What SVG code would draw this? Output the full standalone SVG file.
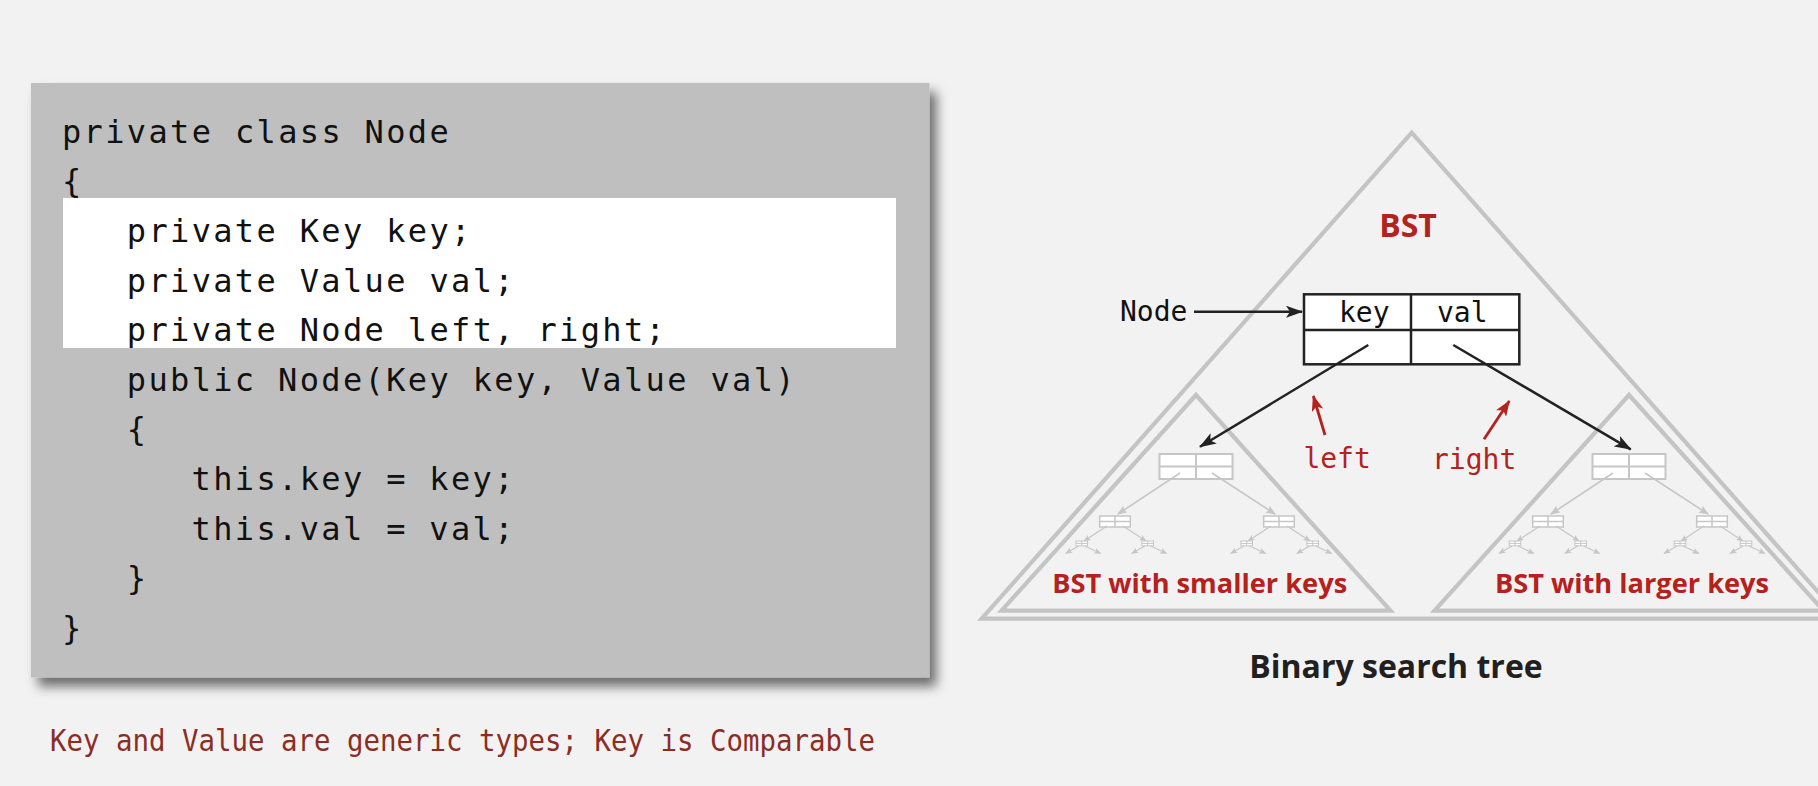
<svg xmlns="http://www.w3.org/2000/svg" xmlns:xlink="http://www.w3.org/1999/xlink" width="1818" height="786" viewBox="0 0 1818 786">
<style>
.code{font-family:"DejaVu Sans Mono","Liberation Mono",monospace;font-size:32px;letter-spacing:2.35px;fill:#111}
.mono{font-family:"DejaVu Sans Mono","Liberation Mono",monospace;font-size:28px}
.bold{font-family:"Open Sans","Liberation Sans",sans-serif;font-weight:bold}
.red{fill:#b5211c}
.tri{fill:none;stroke:#c4c4c4;stroke-width:4.2;stroke-linejoin:miter}
.gbox{fill:#fff;stroke:#c6c6c6}
.gl{stroke:#c6c6c6;fill:none}
</style>
<defs>
<filter id="shadow" x="-5%" y="-5%" width="115%" height="115%">
<feDropShadow dx="7" dy="9" stdDeviation="6" flood-color="#000" flood-opacity="0.55"/>
</filter>
<marker id="ab" markerUnits="userSpaceOnUse" markerWidth="17" markerHeight="12" refX="16" refY="6" orient="auto"><path d="M0,0 L17,6 L0,12 L4,6 z" fill="#222"/></marker>
<marker id="ar" markerUnits="userSpaceOnUse" markerWidth="16" markerHeight="12" refX="15" refY="6" orient="auto"><path d="M0,0 L16,6 L0,12 L4,6 z" fill="#b5211c"/></marker>
<marker id="ga" markerUnits="userSpaceOnUse" markerWidth="10" markerHeight="8" refX="9" refY="4" orient="auto"><path d="M0,0 L10,4 L0,8 L2,4 z" fill="#c6c6c6"/></marker>
<marker id="gs" markerUnits="userSpaceOnUse" markerWidth="7" markerHeight="6" refX="6.5" refY="3" orient="auto"><path d="M0,0 L7,3 L0,6 L1.5,3 z" fill="#c6c6c6"/></marker>
<g id="sub">
<polygon class="tri" points="0,395 194.5,610.7 -194.5,610.7"/>
<rect class="gbox" x="-36.5" y="454" width="73" height="25" stroke-width="2"/>
<path class="gl" stroke-width="2" d="M0,454V479M-36.5,466.5H36.5"/>
<line class="gl" stroke-width="1.6" x1="-16" y1="473" x2="-78" y2="514" marker-end="url(#ga)"/>
<line class="gl" stroke-width="1.6" x1="16" y1="473" x2="79" y2="514" marker-end="url(#ga)"/>
<rect class="gbox" x="-96.3" y="516" width="30.6" height="11" stroke-width="1.5"/>
<path class="gl" stroke-width="1.5" d="M-81,516V527M-96.3,521.5H-65.7"/>
<rect class="gbox" x="67.7" y="516" width="30.6" height="11" stroke-width="1.5"/>
<path class="gl" stroke-width="1.5" d="M83,516V527M67.7,521.5H98.3"/>
<line class="gl" stroke-width="1.2" x1="-89" y1="526" x2="-112" y2="541" marker-end="url(#gs)"/>
<line class="gl" stroke-width="1.2" x1="-73" y1="526" x2="-50" y2="541" marker-end="url(#gs)"/>
<line class="gl" stroke-width="1.2" x1="75" y1="526" x2="52" y2="541" marker-end="url(#gs)"/>
<line class="gl" stroke-width="1.2" x1="91" y1="526" x2="114" y2="541" marker-end="url(#gs)"/>
</g>
<g id="tiny">
<rect class="gbox" x="-5.8" y="541" width="11.6" height="4.8" stroke-width="1"/>
<path class="gl" stroke-width="1" d="M0,541V545.8M-5.8,543.4H5.8"/>
<line class="gl" stroke-width="1.1" x1="-3" y1="546" x2="-16" y2="553.5" marker-end="url(#gs)"/>
<line class="gl" stroke-width="1.1" x1="3" y1="546" x2="19" y2="553.5" marker-end="url(#gs)"/>
</g>
</defs>
<rect width="1818" height="786" fill="#f2f2f2"/>

<g id="code">
<rect x="31" y="83" width="898.5" height="594.5" fill="#bfbfbf" filter="url(#shadow)"/>
<rect x="63" y="198" width="833" height="150" fill="#fff"/>
<text class="code" x="62" y="142.7">private class Node</text>
<text class="code" x="62" y="192.3">{</text>
<text class="code" x="126.8" y="241.9">private Key key;</text>
<text class="code" x="126.8" y="291.5">private Value val;</text>
<text class="code" x="126.8" y="341.1">private Node left, right;</text>
<text class="code" x="126.8" y="390.7">public Node(Key key, Value val)</text>
<text class="code" x="126.8" y="440.3">{</text>
<text class="code" x="191.6" y="489.9">this.key = key;</text>
<text class="code" x="191.6" y="539.5">this.val = val;</text>
<text class="code" x="126.8" y="589.1">}</text>
<text class="code" x="62" y="638.7">}</text>
</g>
<g id="caption">
<text x="50" y="750.7" font-family="'DejaVu Sans Mono','Liberation Mono',monospace" font-size="30.5" fill="#8c2d24" textLength="825" lengthAdjust="spacingAndGlyphs">Key and Value are generic types; Key is Comparable</text>
</g>

<g id="bst">
<polygon class="tri" points="1411.7,132.7 1841.7,618.7 981.7,618.7"/>
<text class="bold red" x="1408" y="236.7" font-size="32" text-anchor="middle">BST</text>
</g>
<g id="bst-left">
<use xlink:href="#sub" x="1196"/>
<use xlink:href="#tiny" x="1081.7"/>
<use xlink:href="#tiny" x="1147.7"/>
<use xlink:href="#tiny" x="1246.7"/>
<use xlink:href="#tiny" x="1312.7"/>
<text class="bold red" x="1199.7" y="593.3" font-size="27.2" text-anchor="middle">BST with smaller keys</text>
</g>
<g id="bst-right">
<use xlink:href="#sub" x="1629"/>
<use xlink:href="#tiny" x="1515"/>
<use xlink:href="#tiny" x="1580.7"/>
<use xlink:href="#tiny" x="1680"/>
<use xlink:href="#tiny" x="1746"/>
<text class="bold red" x="1632" y="593.3" font-size="27.2" text-anchor="middle">BST with larger keys</text>
</g>
<g id="node">
<rect x="1304" y="294.3" width="215.3" height="70" fill="#fff" stroke="#222" stroke-width="2.5"/>
<path d="M1411,294.3V364.3M1304,330H1519.3" stroke="#222" stroke-width="2.5" fill="none"/>
<text class="mono" x="1339" y="322" fill="#111">key</text>
<text class="mono" x="1437" y="322" fill="#111">val</text>
</g>
<g id="node-label">
<text class="mono" x="1120" y="320.7" fill="#111">Node</text>
</g>
<g id="left-label">
<text class="mono red" x="1303.4" y="468">left</text>
</g>
<g id="right-label">
<text class="mono red" x="1432" y="469">right</text>
</g>
<g id="title">
<text class="bold" x="1396" y="678.3" font-size="32" text-anchor="middle" fill="#231f20">Binary search tree</text>
</g>
<g id="connectors">
<line x1="1194" y1="311.7" x2="1302" y2="311.7" stroke="#222" stroke-width="2.5" marker-end="url(#ab)"/>
<line x1="1368.3" y1="345" x2="1200" y2="446.7" stroke="#222" stroke-width="2.5" marker-end="url(#ab)"/>
<line x1="1453.3" y1="345" x2="1630.7" y2="449.3" stroke="#222" stroke-width="2.5" marker-end="url(#ab)"/>
<line x1="1325" y1="435" x2="1313.3" y2="396" stroke="#b5211c" stroke-width="2.8" marker-end="url(#ar)"/>
<line x1="1484" y1="439.3" x2="1509.3" y2="401" stroke="#b5211c" stroke-width="2.8" marker-end="url(#ar)"/>
</g>
</svg>
